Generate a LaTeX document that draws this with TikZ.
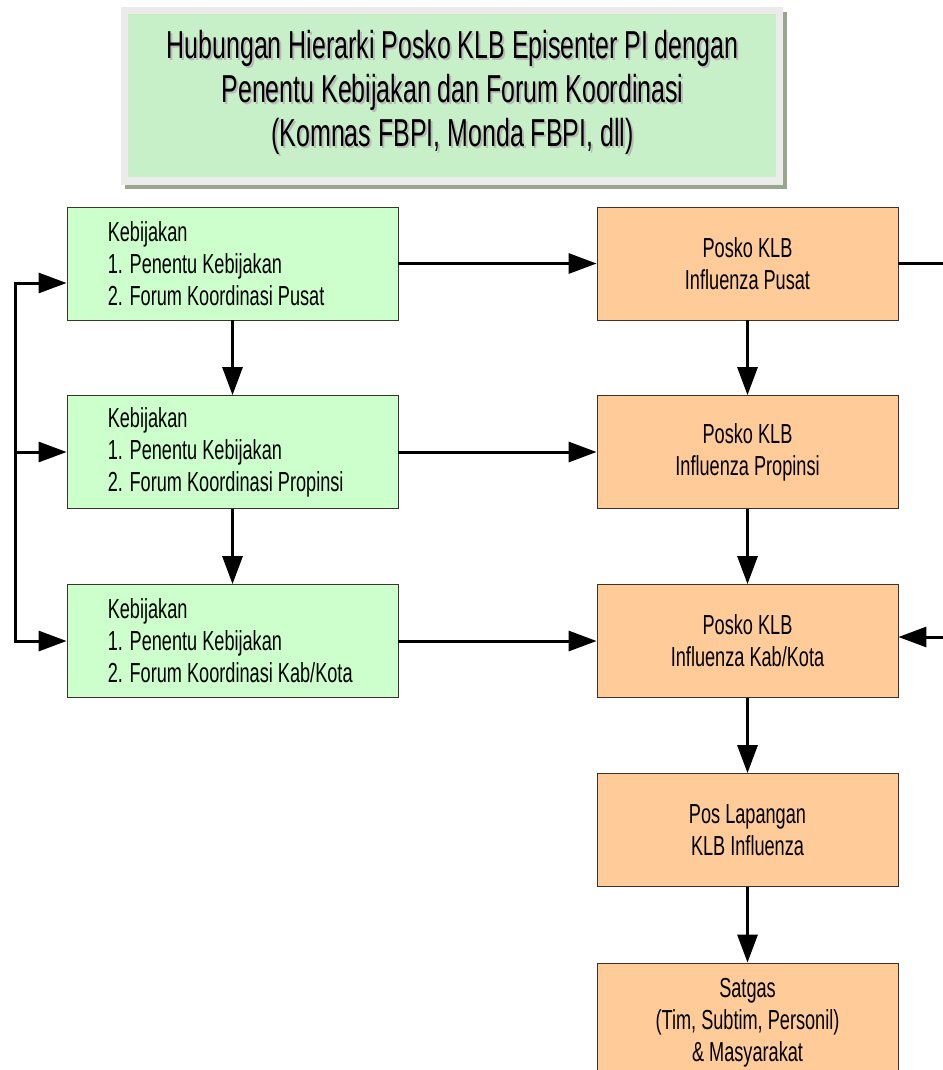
\documentclass[tikz,border=0pt]{standalone}
\usepackage{fontspec}
\setmainfont{Liberation Sans}[FakeStretch=0.66]
\newfontfamily\titlefont{Liberation Sans}[FakeStretch=0.64]
\usetikzlibrary{arrows.meta}
\definecolor{gfill}{HTML}{CCFFCC}
\definecolor{ofill}{HTML}{FFCC99}
\definecolor{tfill}{HTML}{C8F0C8}
\definecolor{tborder}{HTML}{EBEBEB}
\definecolor{tshadow}{HTML}{9AA58E}
\definecolor{edge}{HTML}{3C3228}
\begin{document}
\begin{tikzpicture}[x=1pt,y=-1pt,
  box/.style={draw=edge, line width=0.8pt, minimum width=331pt, minimum height=113pt, inner sep=0pt},
  gbox/.style={box, fill=gfill},
  obox/.style={box, fill=ofill, minimum width=301pt, align=center, font=\fontsize{27.5}{32}\selectfont},
  gtext/.style={anchor=west, align=left, inner sep=0pt, font=\fontsize{27.5}{32}\selectfont},
  ttext/.style={align=center, inner sep=0pt, font=\titlefont\fontsize{39}{44}\selectfont},
  arr/.style={line width=3pt, -{Triangle[length=28pt,width=20pt]}},
  link/.style={line width=3pt}]
\useasboundingbox (0,0) rectangle (942,1070);
% title
\fill[tshadow] (125,12) rectangle (787,189);
\node[fill=tborder, minimum width=662pt, minimum height=178pt, inner sep=0pt] (tb) at (452,96) {};
\node[fill=tfill, minimum width=648pt, minimum height=163pt, inner sep=0pt] (title) at (452,95.5) {};
\node[ttext, text=gray!55] (tts) at (454.5,94) {Hubungan Hierarki Posko KLB Episenter PI dengan\\Penentu Kebijakan dan Forum Koordinasi\\(Komnas FBPI, Monda FBPI, dll)};
\node[ttext] (tt) at (452.5,92) {Hubungan Hierarki Posko KLB Episenter PI dengan\\Penentu Kebijakan dan Forum Koordinasi\\(Komnas FBPI, Monda FBPI, dll)};
% green boxes
\node[gbox] (g1) at (232.5,263.5) {};
\node[gbox] (g2) at (232.5,452) {};
\node[gbox] (g3) at (232.5,641) {};
\node[gtext] (g1t) at ([xshift=41pt]g1.west) {Kebijakan\\1. Penentu Kebijakan\\2. Forum Koordinasi Pusat};
\node[gtext] (g2t) at ([xshift=41pt]g2.west) {Kebijakan\\1. Penentu Kebijakan\\2. Forum Koordinasi Propinsi};
\node[gtext] (g3t) at ([xshift=41pt]g3.west) {Kebijakan\\1. Penentu Kebijakan\\2. Forum Koordinasi Kab/Kota};
% orange boxes
\node[obox] (o1) at (747.5,263.5) {Posko KLB\\Influenza Pusat};
\node[obox] (o2) at (747.5,452) {Posko KLB\\Influenza Propinsi};
\node[obox] (o3) at (747.5,641) {Posko KLB\\Influenza Kab/Kota};
\node[obox] (o4) at (747.5,830) {Pos Lapangan\\KLB Influenza};
\node[obox, text depth=0pt] (o5) at (747.5,1019.5) {Satgas\\(Tim, Subtim, Personil)\\\& Masyarakat};
% left feed
\coordinate (lt) at (15,283);
\coordinate (lm) at (15,452);
\coordinate (lb) at (15,641);
\draw[link] (lt) -- (lb);
\draw[arr] ([xshift=-1.5pt]lt) -- (lt -| g1.west);
\draw[arr] (lm) -- (lm -| g2.west);
\draw[arr] ([xshift=-1.5pt]lb) -- (lb -| g3.west);
% green to orange
\draw[arr] (g1.east) -- (o1.west);
\draw[arr] (g2.east) -- (o2.west);
\draw[arr] (g3.east) -- (o3.west);
% vertical
\draw[arr] (g1.south) -- (g2.north);
\draw[arr] (g2.south) -- (g3.north);
\draw[arr] (o1.south) -- (o2.north);
\draw[arr] (o2.south) -- (o3.north);
\draw[arr] (o3.south) -- (o4.north);
\draw[arr] (o4.south) -- (o5.north);
% right side
\coordinate (r1) at (946,263.5);
\coordinate (r3) at (946,637);
\draw[link] (o1.east) -- (r1);
\draw[arr] (r3) -- (r3 -| o3.east);
\end{tikzpicture}
\end{document}
